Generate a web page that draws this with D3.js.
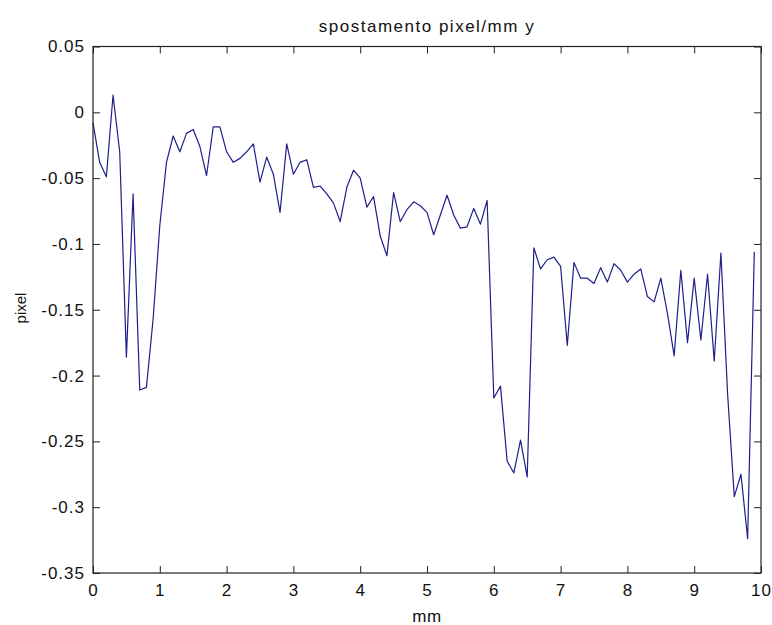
<!DOCTYPE html>
<html>
<head>
<meta charset="utf-8">
<script src="https://cdnjs.cloudflare.com/ajax/libs/d3/7.8.5/d3.min.js"></script>
<style>
  body { margin: 0; background: #fff; }
  svg text { font-family: "Liberation Sans", Arial, sans-serif; fill: #111; }
</style>
</head>
<body>
<div id="chart"></div>
<script>
// x positions (mm)
const mm = [
  0.0, 0.1, 0.2, 0.3, 0.4, 0.5, 0.6, 0.7, 0.8, 0.9,
  1.0, 1.1, 1.2, 1.3, 1.4, 1.5, 1.6, 1.7, 1.8, 1.9,
  2.0, 2.1, 2.2, 2.3, 2.4, 2.5, 2.6, 2.7, 2.8, 2.9,
  3.0, 3.1, 3.2, 3.3, 3.4, 3.5, 3.6, 3.7, 3.8, 3.9,
  4.0, 4.1, 4.2, 4.3, 4.4, 4.5, 4.6, 4.7, 4.8, 4.9,
  5.0, 5.1, 5.2, 5.3, 5.4, 5.5, 5.6, 5.7, 5.8, 5.9,
  6.0, 6.1, 6.2, 6.3, 6.4, 6.5, 6.6, 6.7, 6.8, 6.9,
  7.0, 7.1, 7.2, 7.3, 7.4, 7.5, 7.6, 7.7, 7.8, 7.9,
  8.0, 8.1, 8.2, 8.3, 8.4, 8.5, 8.6, 8.7, 8.8, 8.9,
  9.0, 9.1, 9.2, 9.3, 9.4, 9.5, 9.6, 9.7, 9.8, 9.9
];

// displacement (pixel)
const pixel = [
  -0.008, -0.038, -0.049, 0.013, -0.030, -0.186, -0.062, -0.211, -0.209, -0.157,
  -0.086, -0.038, -0.018, -0.030, -0.016, -0.013, -0.026, -0.048, -0.011, -0.011,
  -0.030, -0.038, -0.035, -0.030, -0.024, -0.053, -0.034, -0.047, -0.076, -0.024,
  -0.047, -0.038, -0.036, -0.057, -0.056, -0.062, -0.069, -0.083, -0.057, -0.044,
  -0.050, -0.072, -0.064, -0.094, -0.109, -0.061, -0.083, -0.074, -0.068, -0.071,
  -0.076, -0.093, -0.078, -0.063, -0.078, -0.088, -0.087, -0.073, -0.085, -0.067,
  -0.217, -0.208, -0.265, -0.274, -0.249, -0.277, -0.103, -0.119, -0.112, -0.110,
  -0.117, -0.177, -0.114, -0.126, -0.126, -0.130, -0.118, -0.129, -0.115, -0.120,
  -0.129, -0.123, -0.119, -0.140, -0.144, -0.126, -0.153, -0.185, -0.120, -0.175,
  -0.126, -0.173, -0.123, -0.189, -0.107, -0.214, -0.292, -0.275, -0.324, -0.106
];

const xTicks = [0, 1, 2, 3, 4, 5, 6, 7, 8, 9, 10];
const yTicks = [0.05, 0, -0.05, -0.1, -0.15, -0.2, -0.25, -0.3, -0.35];
const yTickLabels = ['0.05', '0', '-0.05', '-0.1', '-0.15', '-0.2', '-0.25', '-0.3', '-0.35'];

const width = 772, height = 625;
const plotLeft = 93, plotRight = 761, plotTop = 46.5, plotBottom = 573;

const svg = d3.select('#chart').append('svg')
    .attr('width', width)
    .attr('height', height);

svg.append('rect')
    .attr('width', width)
    .attr('height', height)
    .attr('fill', '#fff');

const x = d3.scaleLinear().domain([0, 10]).range([plotLeft, plotRight]);
const y = d3.scaleLinear().domain([-0.35, 0.05]).range([plotBottom, plotTop]);

// data line
const line = d3.line()
    .x((d, i) => x(mm[i]))
    .y(d => y(d));

svg.append('path')
    .datum(pixel)
    .attr('fill', 'none')
    .attr('stroke', '#1e1e8c')
    .attr('stroke-width', 1.2)
    .attr('stroke-linejoin', 'round')
    .attr('d', line);

// axes, ticks pointing inward like matlab
svg.append('g')
    .attr('transform', `translate(0,${plotBottom})`)
    .call(d3.axisBottom(x).tickValues(xTicks).tickSize(-7).tickPadding(11).tickFormat(d3.format('d')));

svg.append('g')
    .attr('transform', `translate(${plotLeft},0)`)
    .call(d3.axisLeft(y).tickValues(yTicks).tickSize(-7).tickPadding(8)
        .tickFormat((d, i) => yTickLabels[i]));

svg.append('g')
    .attr('transform', `translate(0,${plotTop})`)
    .call(d3.axisTop(x).tickValues(xTicks).tickSize(-7).tickFormat(''));

svg.append('g')
    .attr('transform', `translate(${plotRight},0)`)
    .call(d3.axisRight(y).tickValues(yTicks).tickSize(-7).tickFormat(''));

svg.selectAll('.domain').remove();
svg.selectAll('.tick line').attr('stroke', '#222');

svg.selectAll('.tick text')
    .attr('font-size', 17)
    .attr('fill', '#111')
    .style('letter-spacing', '1px')
    .style('font-family', '"Liberation Sans", Arial, sans-serif');

// box
svg.append('rect')
    .attr('x', plotLeft)
    .attr('y', plotTop)
    .attr('width', plotRight - plotLeft)
    .attr('height', plotBottom - plotTop)
    .attr('fill', 'none')
    .attr('stroke', '#222')
    .attr('stroke-width', 1.2);

// labels
svg.append('text')
    .attr('x', (plotLeft + plotRight) / 2)
    .attr('y', 32)
    .attr('text-anchor', 'middle')
    .attr('font-size', 17)
    .style('letter-spacing', '1.5px')
    .text('spostamento pixel/mm y');

svg.append('text')
    .attr('x', (plotLeft + plotRight) / 2)
    .attr('y', 622)
    .attr('text-anchor', 'middle')
    .attr('font-size', 17)
    .style('letter-spacing', '0.5px')
    .text('mm');

svg.append('text')
    .attr('transform', 'translate(26,308) rotate(-90)')
    .attr('text-anchor', 'middle')
    .attr('font-size', 15)
    .text('pixel');
</script>
</body>
</html>
